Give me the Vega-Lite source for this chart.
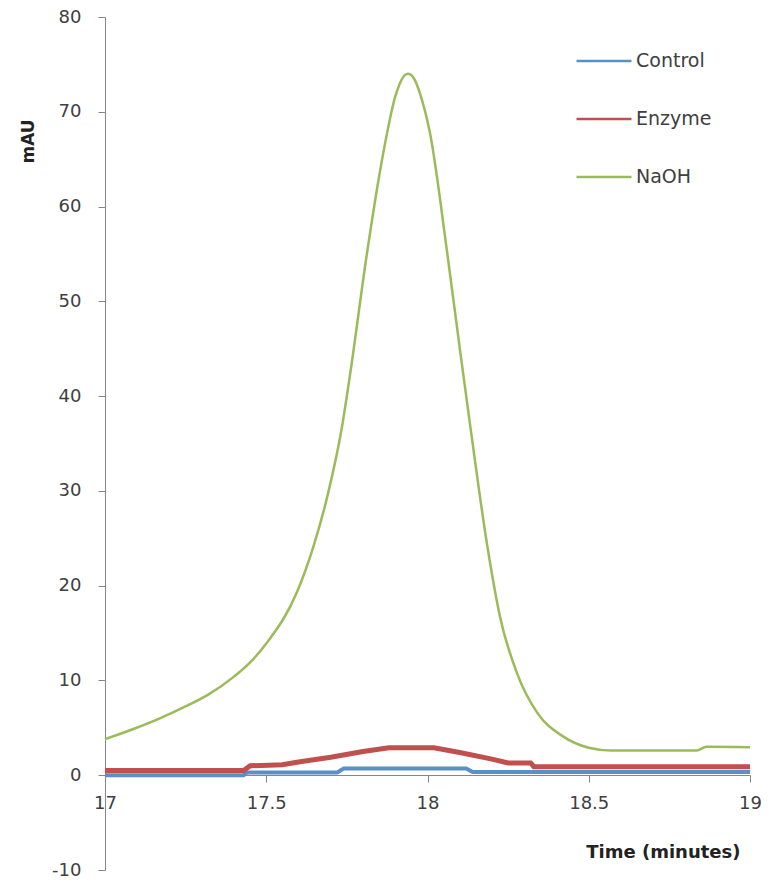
{
  "$schema": "https://vega.github.io/schema/vega-lite/v6.json",
  "width": 645,
  "height": 853,
  "autosize": {"type": "none"},
  "padding": {"left": 105, "top": 17, "right": 23, "bottom": 16},
  "background": "white",
  "config": {"view": {"stroke": null}, "font": "DejaVu Sans"},
  "data": {
    "values": [
      {"series": "Control", "time": 17.0, "mau": 0.0},
      {"series": "Control", "time": 17.43, "mau": 0.0},
      {"series": "Control", "time": 17.44, "mau": 0.3},
      {"series": "Control", "time": 17.72, "mau": 0.3},
      {"series": "Control", "time": 17.74, "mau": 0.7},
      {"series": "Control", "time": 18.12, "mau": 0.7},
      {"series": "Control", "time": 18.14, "mau": 0.35},
      {"series": "Control", "time": 18.39, "mau": 0.35},
      {"series": "Control", "time": 19.0, "mau": 0.35},
      {"series": "Enzyme", "time": 17.0, "mau": 0.5},
      {"series": "Enzyme", "time": 17.43, "mau": 0.5},
      {"series": "Enzyme", "time": 17.45, "mau": 1.0},
      {"series": "Enzyme", "time": 17.55, "mau": 1.1},
      {"series": "Enzyme", "time": 17.6, "mau": 1.4},
      {"series": "Enzyme", "time": 17.7, "mau": 1.9},
      {"series": "Enzyme", "time": 17.8, "mau": 2.5},
      {"series": "Enzyme", "time": 17.88, "mau": 2.9},
      {"series": "Enzyme", "time": 18.02, "mau": 2.9},
      {"series": "Enzyme", "time": 18.1, "mau": 2.4},
      {"series": "Enzyme", "time": 18.2, "mau": 1.7},
      {"series": "Enzyme", "time": 18.25, "mau": 1.3},
      {"series": "Enzyme", "time": 18.32, "mau": 1.3},
      {"series": "Enzyme", "time": 18.33, "mau": 0.9},
      {"series": "Enzyme", "time": 19.0, "mau": 0.9},
      {"series": "NaOH", "time": 17.0, "mau": 3.8},
      {"series": "NaOH", "time": 17.09, "mau": 4.9},
      {"series": "NaOH", "time": 17.17, "mau": 6.0},
      {"series": "NaOH", "time": 17.24, "mau": 7.1},
      {"series": "NaOH", "time": 17.32, "mau": 8.5},
      {"series": "NaOH", "time": 17.4, "mau": 10.4},
      {"series": "NaOH", "time": 17.45, "mau": 11.9},
      {"series": "NaOH", "time": 17.5, "mau": 13.9},
      {"series": "NaOH", "time": 17.595, "mau": 19.3},
      {"series": "NaOH", "time": 17.645, "mau": 24.0},
      {"series": "NaOH", "time": 17.69, "mau": 29.5},
      {"series": "NaOH", "time": 17.735, "mau": 36.8},
      {"series": "NaOH", "time": 17.76, "mau": 42.3},
      {"series": "NaOH", "time": 17.812, "mau": 55.0},
      {"series": "NaOH", "time": 17.862, "mau": 65.5},
      {"series": "NaOH", "time": 17.9, "mau": 71.6},
      {"series": "NaOH", "time": 17.92, "mau": 73.4},
      {"series": "NaOH", "time": 17.94, "mau": 74.0},
      {"series": "NaOH", "time": 17.96, "mau": 73.4},
      {"series": "NaOH", "time": 17.977, "mau": 71.9},
      {"series": "NaOH", "time": 18.008, "mau": 67.7},
      {"series": "NaOH", "time": 18.06, "mau": 55.4},
      {"series": "NaOH", "time": 18.101, "mau": 44.8},
      {"series": "NaOH", "time": 18.132, "mau": 37.0},
      {"series": "NaOH", "time": 18.184, "mau": 24.5},
      {"series": "NaOH", "time": 18.225, "mau": 16.7},
      {"series": "NaOH", "time": 18.277, "mau": 10.8},
      {"series": "NaOH", "time": 18.34, "mau": 6.6},
      {"series": "NaOH", "time": 18.42, "mau": 4.1},
      {"series": "NaOH", "time": 18.5, "mau": 2.9},
      {"series": "NaOH", "time": 18.57, "mau": 2.6},
      {"series": "NaOH", "time": 18.835, "mau": 2.6},
      {"series": "NaOH", "time": 18.865, "mau": 3.0},
      {"series": "NaOH", "time": 19.0, "mau": 2.95}
    ]
  },
  "encoding": {
    "x": {
      "field": "time",
      "type": "quantitative",
      "scale": {"domain": [17, 19], "nice": false, "zero": false},
      "axis": {
        "values": [17, 17.5, 18, 18.5, 19],
        "labelExpr": "toString(datum.value)",
        "grid": false,
        "offset": -95,
        "domainColor": "#868686",
        "tickColor": "#868686",
        "tickSize": 7,
        "labelFontSize": 18,
        "labelColor": "#404040",
        "labelPadding": 12,
        "labelFlush": false,
        "title": "Time (minutes)",
        "titleFontSize": 18,
        "titleFontWeight": "bold",
        "titleColor": "#222222",
        "titleX": 635,
        "titleY": 77,
        "titleAlign": "right",
        "titleBaseline": "middle"
      }
    },
    "y": {
      "field": "mau",
      "type": "quantitative",
      "scale": {"domain": [-10, 80], "nice": false, "zero": false},
      "axis": {
        "values": [-10, 0, 10, 20, 30, 40, 50, 60, 70, 80],
        "labelExpr": "toString(datum.value)",
        "grid": false,
        "domainColor": "#868686",
        "tickColor": "#868686",
        "tickSize": 7,
        "labelFontSize": 18,
        "labelColor": "#404040",
        "labelPadding": 17,
        "title": "mAU",
        "titleFontSize": 17,
        "titleFontWeight": "bold",
        "titleColor": "#222222",
        "titleX": -77,
        "titleY": 124,
        "titleAlign": "center",
        "titleBaseline": "middle"
      }
    },
    "color": {
      "field": "series",
      "type": "nominal",
      "scale": {"domain": ["Control", "Enzyme", "NaOH"], "range": ["#5b8fc7", "#c0504d", "#9bbb59"]},
      "legend": {
        "orient": "none",
        "legendX": 470,
        "legendY": 15,
        "title": null,
        "symbolType": "stroke",
        "symbolSize": 3025,
        "symbolStrokeWidth": 2.5,
        "labelFontSize": 19,
        "labelColor": "#404040",
        "labelOffset": 3,
        "rowPadding": 19,
        "padding": 0
      }
    },
    "order": {"field": "time", "type": "quantitative"}
  },
  "layer": [
    {
      "transform": [{"filter": "datum.series === 'Control'"}],
      "mark": {"type": "line", "interpolate": "linear", "strokeWidth": 4}
    },
    {
      "transform": [{"filter": "datum.series === 'Enzyme'"}],
      "mark": {"type": "line", "interpolate": "linear", "strokeWidth": 5}
    },
    {
      "transform": [{"filter": "datum.series === 'NaOH'"}],
      "mark": {"type": "line", "interpolate": "monotone", "strokeWidth": 2.5}
    }
  ]
}
